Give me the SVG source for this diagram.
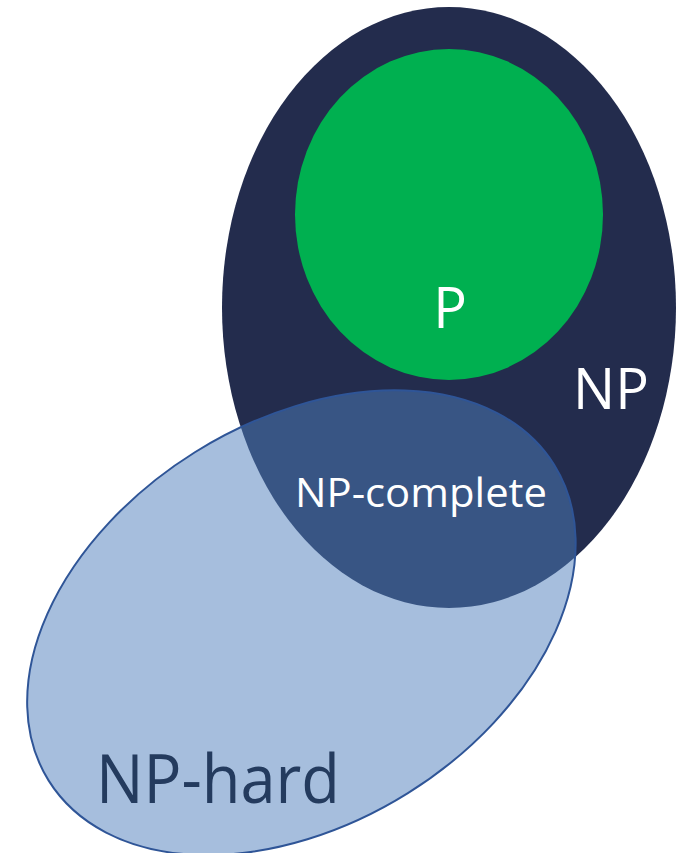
<svg xmlns="http://www.w3.org/2000/svg" width="689" height="853" viewBox="0 0 689 853">
  <style>
    .label { font-family: "Open Sans", "Noto Sans", "Liberation Sans", sans-serif; }
    .light { fill: #ffffff; }
    .dark { fill: #243B5E; }
  </style>
  <rect width="689" height="853" fill="#ffffff"/>

  <!-- NP: the outer dark set -->
  <g id="np">
    <ellipse cx="449" cy="307.5" rx="227" ry="300.5" fill="#232C4D"/>
  </g>

  <!-- P: contained in NP -->
  <g id="p">
    <ellipse cx="449" cy="214.5" rx="154" ry="165.5" fill="#00B050"/>
  </g>

  <!-- NP-hard: translucent, overlaps NP to form NP-complete -->
  <g id="np-hard">
    <ellipse cx="301.4" cy="622.7" rx="298" ry="201" transform="rotate(-32 301.4 622.7)"
             fill="#4E7EBB" fill-opacity="0.5" stroke="#2F5597" stroke-width="2"/>
  </g>

  <!-- labels -->
  <g id="labels" class="label">
    <text class="light" x="450" y="328" font-size="56" text-anchor="middle">P</text>
    <text class="light" x="611" y="409" font-size="56" text-anchor="middle">NP</text>
    <text class="light" x="295" y="507" font-size="40" textLength="252" lengthAdjust="spacingAndGlyphs">NP-complete</text>
    <text class="dark" x="96" y="803" font-size="67" textLength="244" lengthAdjust="spacingAndGlyphs">NP-hard</text>
  </g>
</svg>
